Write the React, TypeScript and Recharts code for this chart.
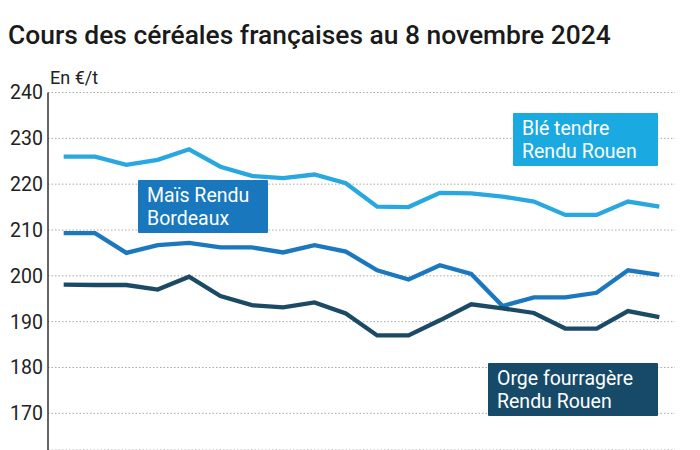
import React from 'react';
import { LineChart, Line, XAxis, YAxis, CartesianGrid } from 'recharts';

// cours hebdomadaires (€/t)
const ble = [226, 226, 224.2, 225.3, 227.6, 223.8, 221.8, 221.3, 222.1, 220.2, 215.1, 215, 218.1, 218, 217.3, 216.2, 213.3, 213.3, 216.2, 215.1];
const mais = [209.3, 209.3, 205, 206.7, 207.2, 206.2, 206.2, 205.1, 206.7, 205.3, 201.2, 199.2, 202.3, 200.4, 193.4, 195.3, 195.3, 196.3, 201.2, 200.2];
const orge = [198.1, 198, 198, 197, 199.8, 195.6, 193.6, 193.1, 194.2, 191.8, 187, 187, 190.3, 193.8, 192.9, 191.9, 188.5, 188.5, 192.3, 191];
const yTicks = [170, 180, 190, 200, 210, 220, 230, 240];

const BLE = '#29a8e0';
const MAIS = '#1b78bf';
const ORGE = '#1b4a66';

const data = ble.map((v, i) => ({ i, ble: v, mais: mais[i], orge: orge[i] }));

const font = 'Roboto, "Noto Sans", sans-serif';

function Tag({ left, top, width, height, bg, lines }: { left: number; top: number; width: number; height: number; bg: string; lines: string[] }) {
  return (
    <div
      style={{
        position: 'absolute', left, top, width, height, background: bg, color: '#fff',
        fontFamily: font, fontSize: 19.5, lineHeight: '23px', padding: '4px 0 0 9px', boxSizing: 'border-box', borderRadius: 1,
        whiteSpace: 'nowrap',
      }}
    >
      {lines.map((l) => <div key={l}>{l}</div>)}
    </div>
  );
}

export default function App() {
  return (
    <div style={{ position: 'absolute', left: 0, top: 0, width: 700, height: 450, overflow: 'hidden', background: '#fff' }}>
      <div style={{ position: 'absolute', left: 8, top: 20, fontFamily: font, fontWeight: 500, fontSize: 26.4, color: '#1a1a1a', whiteSpace: 'nowrap' }}>
        Cours des céréales françaises au 8 novembre 2024
      </div>
      <div style={{ position: 'absolute', left: 50, top: 67, fontFamily: font, fontSize: 18, color: '#222' }}>En €/t</div>
      <LineChart width={700} height={450} data={data} margin={{ top: 92.5, right: 25, left: 8, bottom: 0 }} style={{ position: 'absolute', left: 0, top: 0 }}>
        <CartesianGrid vertical={false} stroke="#a9a9a9" strokeDasharray="1.5 2" />
        <XAxis dataKey="i" type="number" domain={[-0.5, 19.5]} hide />
        <YAxis
          domain={[162, 240]}
          ticks={yTicks}
          width={40}
          tickSize={0}
          tickMargin={5}
          axisLine={{ stroke: '#333', strokeWidth: 1.5 }}
          tick={{ fill: '#222', fontSize: 19.5, fontFamily: font }}
          allowDataOverflow
        />
        <Line type="linear" dataKey="ble" stroke={BLE} strokeWidth={4.3} dot={false} isAnimationActive={false} />
        <Line type="linear" dataKey="mais" stroke={MAIS} strokeWidth={4.3} dot={false} isAnimationActive={false} />
        <Line type="linear" dataKey="orge" stroke={ORGE} strokeWidth={4.3} dot={false} isAnimationActive={false} />
      </LineChart>
      <Tag left={513} top={113} width={145} height={53} bg="#1ba9e2" lines={['Blé tendre', 'Rendu Rouen']} />
      <Tag left={138} top={180} width={130} height={53} bg="#1877bd" lines={['Maïs Rendu', 'Bordeaux']} />
      <Tag left={488} top={363} width={170} height={53} bg="#174a68" lines={['Orge fourragère', 'Rendu Rouen']} />
    </div>
  );
}
